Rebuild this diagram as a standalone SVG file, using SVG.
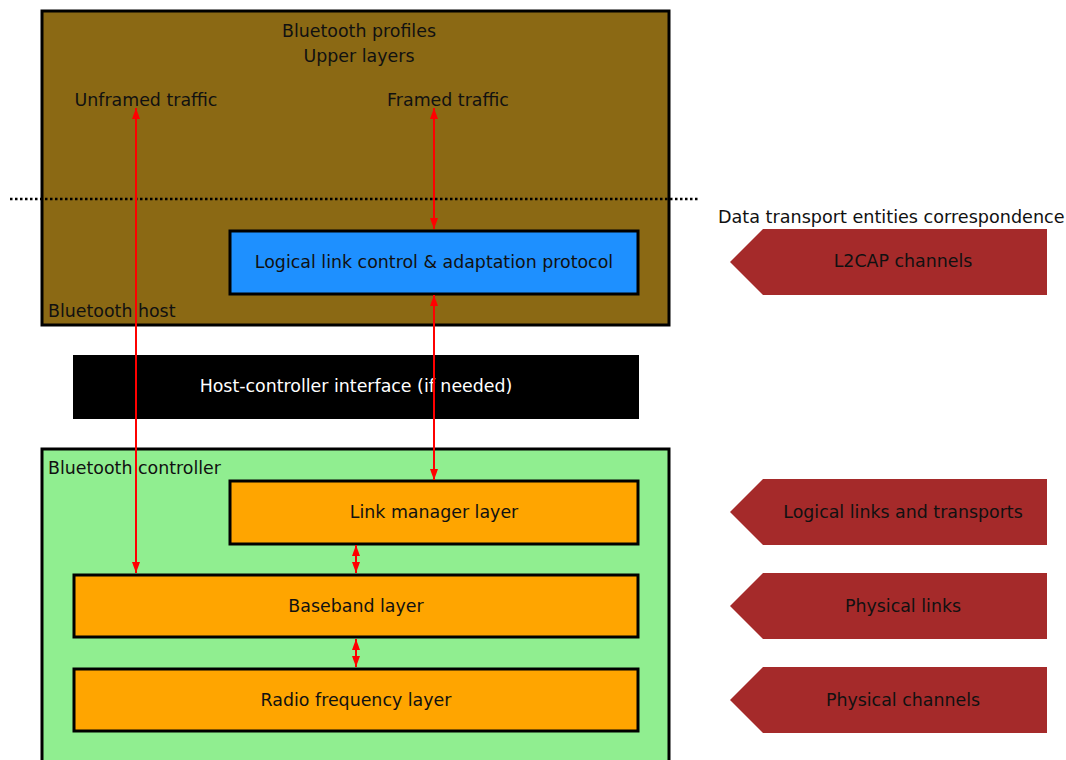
<svg xmlns="http://www.w3.org/2000/svg" width="1066" height="760" viewBox="0 0 1066 760">
<style>
.t{font-family:"DejaVu Sans",sans-serif;font-size:17.4px;fill:#111;}
.c{text-anchor:middle;}
.w{fill:#fff;}
.r{font-family:"DejaVu Sans",sans-serif;font-size:17.6px;fill:#111;}
.box{stroke:#000;stroke-width:3;}
.lay{fill:#ffa500;stroke:#000;stroke-width:3;}
.ent{fill:#a52a2a;}
.con{stroke:#f00;stroke-width:2;fill:none;marker-start:url(#ah);marker-end:url(#ah);}
</style>
<defs>
<marker id="ah" viewBox="0 0 11 8" refX="11" refY="4" markerWidth="11" markerHeight="8" markerUnits="userSpaceOnUse" orient="auto-start-reverse">
<path d="M0,0 L11,4 L0,8 z" fill="#f00"/>
</marker>
</defs>
<rect width="1066" height="760" fill="#fff"/>
<g id="host">
<rect class="box" x="42" y="11" width="627" height="314" fill="#8b6914"/>
<text class="t c" x="359" y="37">Bluetooth profiles</text>
<text class="t c" x="359" y="62">Upper layers</text>
<text class="t c" x="146" y="106">Unframed traffic</text>
<text class="t c" x="448" y="106">Framed traffic</text>
<text class="t" x="48" y="317">Bluetooth host</text>
</g>
<g id="l2cap">
<rect class="box" x="230" y="231" width="408" height="63" fill="#1e90ff"/>
<text class="t c" x="434" y="268">Logical link control &amp; adaptation protocol</text>
</g>
<g id="hci">
<rect x="73" y="355" width="566" height="64" fill="#000"/>
<text class="t c w" x="356" y="392">Host-controller interface (if needed)</text>
</g>
<g id="controller">
<rect class="box" x="42" y="449" width="627" height="320" fill="#90ee90"/>
<text class="t" x="48" y="474">Bluetooth controller</text>
</g>
<g id="lm">
<rect class="lay" x="230" y="481" width="408" height="63"/>
<text class="t c" x="434" y="518">Link manager layer</text>
</g>
<g id="baseband">
<rect class="lay" x="74" y="575" width="564" height="62"/>
<text class="t c" x="356" y="612">Baseband layer</text>
</g>
<g id="radio">
<rect class="lay" x="74" y="669" width="564" height="62"/>
<text class="t c" x="356" y="706">Radio frequency layer</text>
</g>
<line x1="10" y1="199" x2="698" y2="199" stroke="#000" stroke-width="2.5" stroke-dasharray="2.5,2.5"/>
<g id="correspondence">
<text class="r" x="718" y="223">Data transport entities correspondence</text>
<g id="e-l2cap"><polygon class="ent" points="730,262 763,229 1047,229 1047,295 763,295"/><text class="t c" x="903" y="267">L2CAP channels</text></g>
<g id="e-logical"><polygon class="ent" points="730,512 763,479 1047,479 1047,545 763,545"/><text class="t c" x="903" y="518">Logical links and transports</text></g>
<g id="e-plinks"><polygon class="ent" points="730,606 763,573 1047,573 1047,639 763,639"/><text class="t c" x="903" y="612">Physical links</text></g>
<g id="e-pch"><polygon class="ent" points="730,700 763,667 1047,667 1047,733 763,733"/><text class="t c" x="903" y="706">Physical channels</text></g>
</g>
<g id="connectors">
<line class="con" x1="136" y1="108" x2="136" y2="573"/>
<line class="con" x1="434" y1="108" x2="434" y2="229"/>
<line class="con" x1="434" y1="295" x2="434" y2="480"/>
<line class="con" x1="356" y1="545" x2="356" y2="573"/>
<line class="con" x1="356" y1="639" x2="356" y2="667"/>
</g>
</svg>
